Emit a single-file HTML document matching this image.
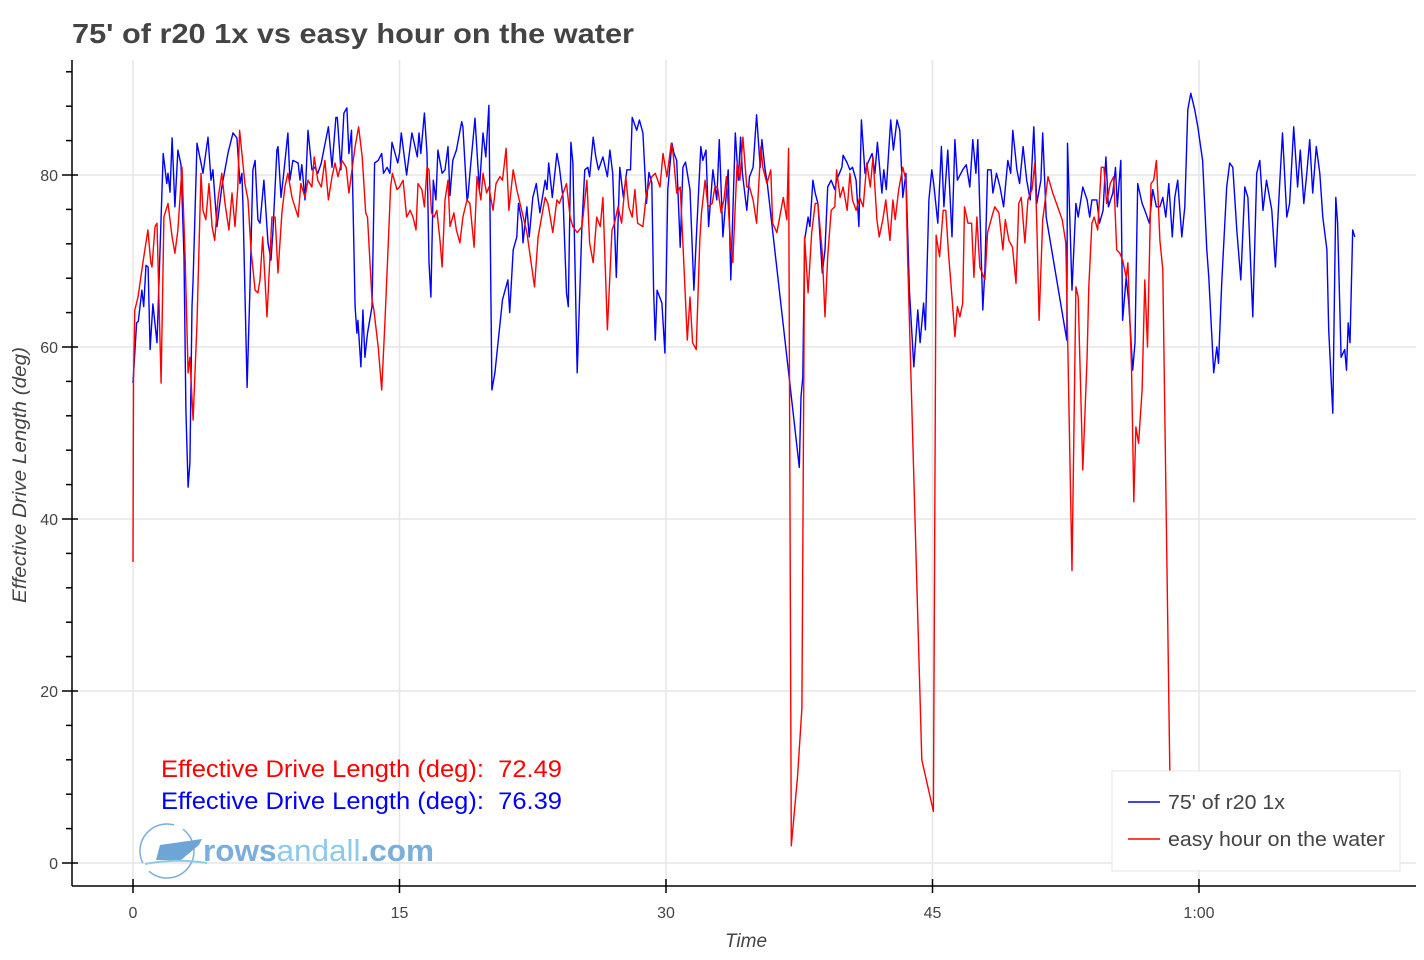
<!DOCTYPE html>
<html><head><meta charset="utf-8">
<style>
body{margin:0;background:#fff;width:1424px;height:960px;overflow:hidden;font-family:"Liberation Sans",sans-serif}
svg{display:block}
</style></head>
<body>
<svg id="chart" width="1424" height="960" viewBox="0 0 1424 960" xmlns="http://www.w3.org/2000/svg">
<text x="72" y="43" font-size="28" font-weight="bold" fill="#444" textLength="562" lengthAdjust="spacingAndGlyphs">75' of r20 1x vs easy hour on the water</text>
<g id="grid"></g>
<g id="series"></g>
<g id="axes"></g>
<text transform="translate(26,475) rotate(-90)" text-anchor="middle" font-size="19" font-style="italic" fill="#444" textLength="256" lengthAdjust="spacingAndGlyphs">Effective Drive Length (deg)</text>
<text x="746" y="947" text-anchor="middle" font-size="19" font-style="italic" fill="#444">Time</text>
<text x="161" y="777" font-size="24" fill="#f00" xml:space="preserve" textLength="401" lengthAdjust="spacingAndGlyphs">Effective Drive Length (deg):  72.49</text>
<text x="161" y="809" font-size="24" fill="#00f" xml:space="preserve" textLength="401" lengthAdjust="spacingAndGlyphs">Effective Drive Length (deg):  76.39</text>
<g>
<circle cx="167" cy="851" r="27" fill="none" stroke="#7aaedc" stroke-width="1.5" stroke-dasharray="62 10"/>
<path d="M156 860 L160 845 L202 839 L199 845 L181 860 Z" fill="#6fa5d6"/>
<path d="M145 864 Q175 858 207 863" fill="none" stroke="#8ccbe8" stroke-width="2"/>
<text x="203" y="861" font-size="31" fill="#7aaedc" font-weight="bold" textLength="231" lengthAdjust="spacingAndGlyphs">rows<tspan fill="#8ccbe8" font-weight="normal">andall</tspan>.com</text>
</g>
<g>
<rect x="1112" y="771" width="288" height="100" fill="#fff" stroke="#e6e6e6"/>
<line x1="1128" y1="802" x2="1160" y2="802" stroke="#00f" stroke-width="1.5"/>
<text x="1168" y="809" font-size="20" fill="#444" textLength="117" lengthAdjust="spacingAndGlyphs">75' of r20 1x</text>
<line x1="1128" y1="839" x2="1160" y2="839" stroke="#f00" stroke-width="1.5"/>
<text x="1168" y="846" font-size="20" fill="#444" textLength="217" lengthAdjust="spacingAndGlyphs">easy hour on the water</text>
</g>
</svg>
<script>
const xTicks=[0,15,30,45,60];
const xTickLabels=["0","15","30","45","1:00"];
const yTicks=[0,20,40,60,80];
// [minutes, degrees]
const blueData=[[0,55.8],[0.2,62.8],[0.3,63],[0.5,66.6],[0.6,64.7],[0.73,69.5],[0.85,69.3],[0.96,59.7],[1.12,65],[1.35,60.5],[1.7,82.5],[1.9,79],[1.97,80.2],[2.08,78],[2.2,84.3],[2.36,76.3],[2.53,82.9],[2.7,81.2],[2.87,70.5],[2.98,52.7],[3.1,43.7],[3.2,46.5],[3.32,64.7],[3.38,67.8],[3.6,83.7],[3.83,81.4],[3.94,80.2],[4.22,84.4],[4.39,79.4],[4.5,80.6],[4.73,74],[5.0,78.6],[5.35,82.6],[5.63,84.9],[5.85,84.3],[6.02,79],[6.13,80.2],[6.19,76.3],[6.42,55.3],[6.58,66.6],[6.75,80.6],[6.87,81.7],[7.03,74.8],[7.15,74.4],[7.37,79.4],[7.6,72.1],[7.77,70.1],[7.88,73.6],[8.1,82.9],[8.16,83.3],[8.33,77.4],[8.44,79.4],[8.72,84.9],[8.83,79.4],[9.0,81.7],[9.29,81.4],[9.4,79.4],[9.5,81.2],[9.68,77.1],[9.85,85.2],[10.07,80.6],[10.24,80.9],[10.4,80.2],[10.6,81.4],[10.7,82.5],[11.0,85.6],[11.2,80.9],[11.42,86.7],[11.5,86.7],[11.7,80.6],[11.87,87.2],[12.04,87.8],[12.15,82.5],[12.3,85.2],[12.5,64.7],[12.6,61.6],[12.66,63.1],[12.83,57.7],[12.94,64.3],[13.05,58.8],[13.2,61.6],[13.45,64.7],[13.6,81.4],[13.8,81.7],[14.0,82.5],[14.1,80.2],[14.3,80.9],[14.46,80.2],[14.58,83.8],[14.75,82.5],[14.9,81.4],[15.0,82.5],[15.1,84.9],[15.4,80],[15.7,84.9],[16.0,82.1],[16.1,84.9],[16.2,82.5],[16.4,87.2],[16.55,82.5],[16.66,69.8],[16.77,65.8],[16.9,79.4],[17.05,77.1],[17.16,82.9],[17.4,80.2],[17.56,80.6],[17.73,83.3],[17.84,77.6],[18.0,81.7],[18.2,82.9],[18.5,86.2],[18.57,85.6],[18.8,77.1],[18.85,77.4],[18.96,80.2],[19.25,86.6],[19.4,81.4],[19.5,78.3],[19.7,84.9],[19.86,82.1],[20.03,88.1],[20.2,55],[20.37,57],[20.8,65.5],[21.1,67.8],[21.2,64],[21.4,71.3],[21.6,72.8],[21.7,76.7],[21.9,74.4],[21.95,72.1],[22.17,76.3],[22.3,72.8],[22.5,77.4],[22.7,79],[22.9,75.6],[23.2,79.4],[23.3,78.3],[23.4,81.4],[23.6,77.4],[23.86,82.5],[24.0,80.9],[24.2,77.4],[24.4,66.3],[24.5,64.7],[24.65,83.8],[24.76,81.4],[25.0,57],[25.27,74.4],[25.43,80.6],[25.6,80.9],[25.7,79.8],[25.9,84.4],[26.05,82.1],[26.2,80.6],[26.45,82.1],[26.7,79.8],[26.84,82.9],[27.0,80.2],[27.2,68.1],[27.4,80.9],[27.6,77.4],[27.8,80.6],[28.0,80.6],[28.1,86.7],[28.35,85.2],[28.5,86.4],[28.7,84.9],[28.9,76.7],[29.04,80.3],[29.2,79.1],[29.3,66.6],[29.4,60.8],[29.5,66.6],[29.77,65.1],[29.94,59.3],[30.1,78.3],[30.33,83.7],[30.45,82.5],[30.6,81.7],[30.8,71.6],[30.95,80.9],[31.1,81.5],[31.35,78.3],[31.57,66.6],[31.7,72.4],[31.96,83.3],[32.07,81.7],[32.25,82.9],[32.4,74],[32.64,80.6],[32.86,77.1],[33.0,84.1],[33.2,72.8],[33.5,80.6],[33.65,67.8],[33.9,84.9],[34.07,79.4],[34.2,84.4],[34.3,80.2],[34.55,75.9],[34.7,79.8],[34.9,80.9],[35.1,87],[35.3,80.9],[35.4,84.1],[35.56,80.9],[35.7,79],[37.5,46],[37.6,54.2],[37.7,56.5],[37.8,72.4],[38.0,75.1],[38.1,74],[38.27,79.4],[38.4,77.9],[38.55,76.7],[38.8,68.6],[38.95,71.3],[39.1,78.6],[39.3,79.4],[39.5,78.3],[39.6,79.4],[39.9,80.9],[39.97,82.3],[40.2,81.4],[40.35,80.6],[40.5,80.9],[40.7,79.4],[40.86,74],[41.0,86.4],[41.2,80.2],[41.36,81.4],[41.6,82.5],[41.76,80.2],[41.9,83.8],[42.15,77.9],[42.26,80.6],[42.4,78.3],[42.65,86.4],[42.8,82.9],[43.0,86.4],[43.16,85.2],[43.33,77.4],[43.5,80.2],[43.7,66.6],[43.95,57.7],[44.17,64.3],[44.3,60.5],[44.5,65.1],[44.6,62],[44.8,77.1],[44.96,80.6],[45.07,79],[45.3,74.4],[45.5,83.3],[45.64,76.3],[45.86,82.9],[46.1,72.8],[46.26,84.1],[46.4,79.4],[46.7,80.6],[46.9,81.2],[47.1,78.6],[47.27,84.1],[47.44,80.2],[47.55,84.1],[47.83,64.3],[47.95,69],[48.1,80.6],[48.3,80.6],[48.4,77.9],[48.6,80.2],[48.8,78.6],[49.0,76.3],[49.24,81.7],[49.4,80.2],[49.52,85.2],[49.75,80.6],[49.9,79],[50.1,83.3],[50.3,79.4],[50.5,77.1],[50.7,85.6],[50.87,76.7],[51.1,79.4],[51.2,84.9],[51.4,75.1],[52.56,60.8],[52.6,83.7],[52.85,66.6],[53.07,76.7],[53.2,75.1],[53.46,78.6],[53.7,77.1],[53.85,75.1],[53.97,77.1],[54.25,77.1],[54.4,74.4],[54.6,75.9],[54.76,82.1],[54.9,76.3],[55.15,77.9],[55.3,80.9],[55.4,76.3],[55.6,81.7],[55.7,63.1],[55.9,68.1],[56.05,65.1],[56.27,57.3],[56.4,60.5],[56.55,79],[56.8,76.7],[56.95,75.9],[57.2,74.4],[57.4,78.3],[57.6,76.3],[57.8,76.3],[57.96,77.4],[58.13,75.1],[58.3,79],[58.5,72.8],[58.64,77.4],[58.8,79.4],[59.03,72.8],[59.2,76.3],[59.37,87.6],[59.54,89.5],[59.76,87.6],[59.93,85.6],[60.2,81.7],[60.44,71.3],[60.55,68.1],[60.83,57],[61.0,60],[61.1,58.1],[61.28,67.4],[61.56,78.6],[61.73,81.4],[61.9,80.9],[62.13,73.6],[62.35,67.8],[62.58,78.6],[62.75,77.4],[63.03,63.5],[63.25,80.2],[63.42,81.7],[63.6,75.9],[63.8,79.4],[64.1,75.9],[64.3,69.3],[64.54,79],[64.7,84.9],[64.94,75.1],[65.1,76.7],[65.33,85.6],[65.55,78.6],[65.7,82.9],[65.9,76.7],[66.07,80.2],[66.23,84.1],[66.4,77.9],[66.6,83.3],[66.8,80.2],[66.97,75.1],[67.2,71.3],[67.3,62],[67.53,52.3],[67.7,77.4],[67.8,74.4],[68.0,58.8],[68.2,59.7],[68.3,57.3],[68.4,62.8],[68.5,60.5],[68.65,73.6],[68.77,72.8]];
const redData=[[0,35],[0.03,56],[0.1,64.3],[0.28,65.8],[0.56,69.8],[0.84,73.6],[1.0,69.8],[1.07,69.3],[1.24,74],[1.35,74.4],[1.58,55.8],[1.74,75.1],[1.97,76.7],[2.2,72.8],[2.36,70.9],[2.53,73.6],[2.76,80.9],[2.93,70.5],[3.1,57],[3.2,58.8],[3.38,51.5],[3.6,62.8],[3.83,80.2],[3.94,75.9],[4.1,74.8],[4.28,79],[4.45,74],[4.6,72.4],[4.78,77.1],[5.0,80.2],[5.18,76.7],[5.4,73.6],[5.57,77.9],[5.74,74],[5.9,78.6],[6.0,85.2],[6.3,79],[6.47,77.1],[6.64,71.3],[6.87,66.6],[7.03,66.3],[7.15,67.8],[7.3,72.8],[7.54,63.5],[7.82,75.1],[8.0,75.1],[8.16,68.6],[8.38,75.6],[8.55,78.6],[8.72,80.2],[8.95,77.4],[9.29,75.1],[9.45,79],[9.68,77.4],[9.85,79.4],[10.07,78.6],[10.2,82.1],[10.4,79.4],[10.6,78.6],[10.8,81.7],[11.0,77.1],[11.2,79.8],[11.37,81.4],[11.54,79.8],[11.76,81.7],[12.0,80.9],[12.15,77.9],[12.3,80.2],[12.5,83.3],[12.7,85.6],[12.9,82.1],[13.1,75.6],[13.2,75.1],[13.45,65.5],[13.56,64.3],[13.8,60],[14.0,55],[14.18,62.8],[14.35,71.3],[14.5,78.6],[14.6,80.2],[14.86,78.3],[15.0,78.6],[15.2,79.4],[15.4,75.1],[15.6,75.9],[15.76,75.1],[15.93,73.6],[16.04,79],[16.26,78.3],[16.4,76.3],[16.55,80.9],[16.66,80.6],[16.8,75.6],[16.94,75.1],[17.1,75.9],[17.28,72.4],[17.4,69.3],[17.56,77.1],[17.73,79.4],[17.84,74],[18.06,75.6],[18.2,73.6],[18.4,72.1],[18.57,75.1],[18.8,77.1],[18.96,76.7],[19.2,71.6],[19.36,79.8],[19.58,77.1],[19.7,80.2],[19.9,77.9],[20.03,78.6],[20.26,75.9],[20.43,79],[20.65,79.8],[20.8,79.4],[21.0,83.1],[21.16,75.9],[21.4,80.6],[21.6,78.3],[22.17,73.3],[22.6,67],[22.8,72.8],[23.0,75.1],[23.2,77.4],[23.35,76.7],[23.63,73.3],[23.86,77.1],[24.0,76.7],[24.4,79],[24.6,75.1],[24.76,74],[25.0,73.3],[25.27,74],[25.55,79.4],[25.7,72.1],[25.9,69.8],[26.1,75.1],[26.3,74],[26.45,77.4],[26.7,62],[26.96,73.6],[27.1,74.4],[27.3,76.3],[27.5,74.4],[27.74,79.8],[27.9,76.3],[28.1,75.1],[28.25,78.3],[28.4,74.4],[28.7,74],[28.9,77.9],[29.2,79.8],[29.4,80.2],[29.66,78.6],[29.83,82.5],[30.05,79.8],[30.3,83.7],[30.4,82.5],[30.6,77.9],[30.8,78.6],[30.95,72.1],[31.2,60.8],[31.35,65.8],[31.5,60.5],[31.7,59.7],[31.9,72.4],[32.0,75.6],[32.2,79.4],[32.36,76.3],[32.6,76.7],[32.75,78.6],[32.9,78.6],[33.1,75.6],[33.26,77.1],[33.4,79.8],[33.65,71.6],[33.76,69.8],[34.0,81.4],[34.16,79.4],[34.33,84.4],[34.55,78.6],[34.7,78.6],[34.9,77.1],[35.1,74.4],[35.34,83.3],[35.45,80.9],[35.68,79],[35.9,80.6],[36.0,74.4],[36.24,73.3],[36.4,75.1],[36.6,77.4],[36.8,74.8],[36.9,83.1],[37.05,2],[37.4,10],[37.65,18],[37.8,72.8],[38.0,66.3],[38.2,73.3],[38.4,76.7],[38.55,76.7],[38.8,70.9],[38.95,63.5],[39.1,70.5],[39.3,75.9],[39.5,76.3],[39.6,80.6],[39.8,77.4],[39.97,78.6],[40.2,75.9],[40.35,80.2],[40.5,77.1],[40.7,75.9],[40.9,77.4],[41.1,76.3],[41.3,81.4],[41.5,78.6],[41.65,82.1],[41.87,74.8],[42.0,72.8],[42.2,74.8],[42.37,77.1],[42.6,72.4],[42.77,77.1],[42.9,74.8],[43.1,78.3],[43.33,80.9],[43.5,79.4],[43.6,70.5],[44.4,12],[45.05,6],[45.2,73],[45.4,70.5],[45.6,75.9],[45.75,75.9],[45.9,70.9],[46.1,65.8],[46.26,61.2],[46.4,64.7],[46.54,63.5],[46.7,65.1],[46.8,76.3],[47.0,74.4],[47.2,74.4],[47.33,68.1],[47.5,75.1],[47.66,69.3],[47.95,67.8],[48.1,73.3],[48.34,75.1],[48.5,76.3],[48.74,75.6],[48.96,71.3],[49.1,74.8],[49.3,72.4],[49.5,71.6],[49.7,67.4],[49.86,76.7],[50.0,77.4],[50.2,72.1],[50.37,77.1],[50.6,78.3],[50.76,81.4],[50.87,74.4],[51.0,63.1],[51.2,74.8],[51.3,76.3],[51.5,79.8],[51.77,77.9],[52.3,74.8],[52.5,72.1],[52.6,62],[52.85,34],[53.07,67],[53.2,65.8],[53.46,45.7],[53.7,58.8],[53.8,67],[53.97,74.4],[54.1,75.1],[54.3,73.6],[54.5,80.9],[54.65,80.9],[54.8,76.7],[55.0,79],[55.2,79.8],[55.37,71.3],[55.55,70.9],[55.7,70.1],[55.9,68.1],[56.0,69.8],[56.2,57.7],[56.33,42],[56.45,50.7],[56.6,48.8],[56.8,55],[56.95,67.8],[57.1,60],[57.3,79],[57.45,79.4],[57.6,81.7],[57.8,72.4],[57.96,69],[58.36,10]];
const NS='http://www.w3.org/2000/svg';
const L=72,R=1416,T=60,B=886;
const xs=t=>133+t*(1199-133)/60;
const ys=v=>863-v*(863-175)/80;
function mk(tag,attrs,parent){const e=document.createElementNS(NS,tag);for(const k in attrs)e.setAttribute(k,attrs[k]);parent.appendChild(e);return e;}
const grid=document.getElementById('grid'),axes=document.getElementById('axes'),ser=document.getElementById('series');
xTicks.forEach((t,i)=>{
  const g=mk('line',{x1:xs(t),x2:xs(t),y1:T,y2:B,stroke:'#e6e6e6','stroke-width':1.5},grid);
  
  
  const tk=mk('line',{x1:xs(t),x2:xs(t),y1:B-7,y2:B+7,stroke:'#000','stroke-width':1.5},axes);
  
  
  const tx=mk('text',{x:xs(t),y:B+32,'text-anchor':'middle','font-size':16,fill:'#444'},axes);
  tx.textContent=xTickLabels[i];
  
  
});
yTicks.forEach(v=>{
  const g=mk('line',{x1:L,x2:R,y1:ys(v),y2:ys(v),stroke:'#e6e6e6','stroke-width':1.5},grid);
  
  
  const tx=mk('text',{x:L-14,y:ys(v)+6,'text-anchor':'end','font-size':16,fill:'#444'},axes);
  tx.textContent=String(v);
  
  
});
for(let v=-4;v<=92;v+=4){
  const y=ys(v);if(y>B||y<T)continue;
  const major=v%20===0;
  const tk=mk('line',{x1:L-(major?10:6),x2:major?L+6:L,y1:y,y2:y,stroke:'#000','stroke-width':1.5},axes);
  
  
}
const ax1=mk('line',{x1:L,x2:L,y1:T,y2:B,stroke:'#000','stroke-width':1.5},axes);


const ax2=mk('line',{x1:L,x2:R,y1:B,y2:B,stroke:'#000','stroke-width':1.5},axes);


function line(data,color,name){
  const d=data.map((p,i)=>(i?'L':'M')+xs(p[0]).toFixed(1)+' '+ys(p[1]).toFixed(1)).join(' ');
  const p=mk('path',{d:d,fill:'none',stroke:color,'stroke-width':1.4,'stroke-linejoin':'round'},ser);
  
  
}
line(blueData,'#00f','series-r20-line');
line(redData,'#f00','series-easy-hour-line');
</script>
</body></html>
